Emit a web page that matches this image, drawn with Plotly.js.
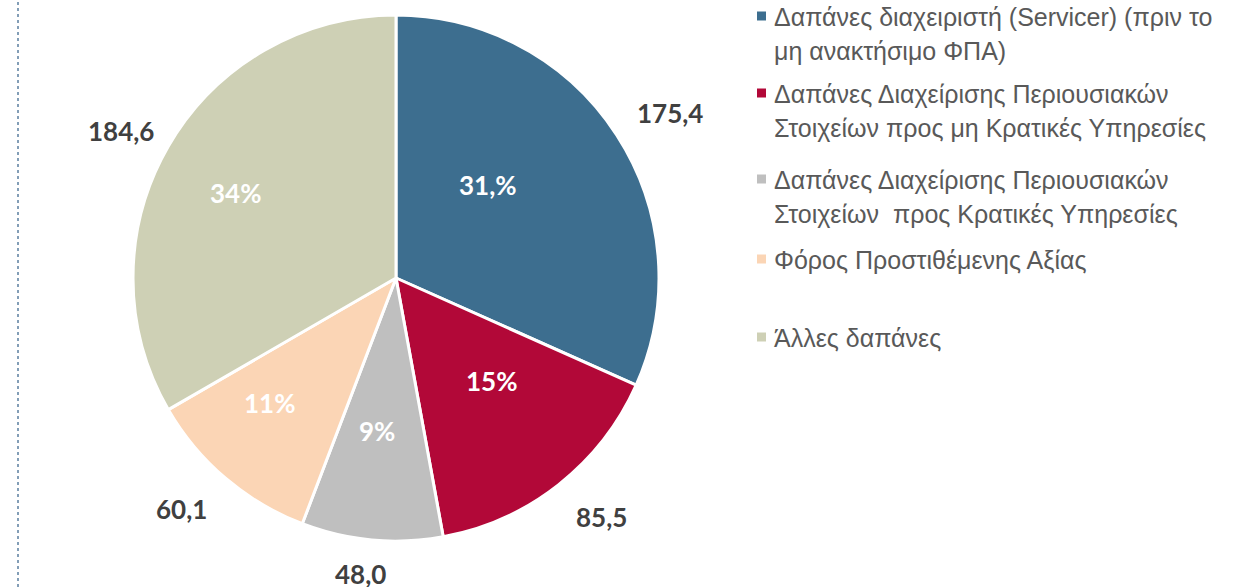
<!DOCTYPE html>
<html>
<head>
<meta charset="utf-8">
<script src="https://cdn.plot.ly/plotly-3.0.1.min.js"></script>
<style>
  html, body { margin: 0; padding: 0; background: #ffffff; }
  #chart { width: 1255px; height: 587px; }
</style>
</head>
<body>
<div id="chart"></div>
<script>
// Cost categories (legend text, one entry per slice, lines split by \n)
const categories = [
  "Δαπάνες διαχειριστή (Servicer) (πριν το\nμη ανακτήσιμο ΦΠΑ)",
  "Δαπάνες Διαχείρισης Περιουσιακών\nΣτοιχείων προς μη Κρατικές Υπηρεσίες",
  "Δαπάνες Διαχείρισης Περιουσιακών\nΣτοιχείων  προς Κρατικές Υπηρεσίες",
  "Φόρος Προστιθέμενης Αξίας",
  "Άλλες δαπάνες"
];
// Amounts per category
const values = [175.4, 85.5, 48.0, 60.1, 184.6];
// Share labels printed inside the slices
const shareLabels = ["31,%", "15%", "9%", "11%", "34%"];
const colors = ["#3d6e8f", "#b20838", "#bfbfbf", "#fbd5b5", "#ced0b5"];

const W = 1255, H = 587;
const cx = 396, cy = 278, R = 263;

// Greek-style number format: comma as decimal separator
const fmt = v => v.toFixed(1).replace(".", ",");
const px = x => x / W;
const py = y => 1 - y / H;

const trace = {
  type: "pie",
  labels: categories.map(c => c.replace("\n", " ")),
  values: values,
  sort: false,
  direction: "clockwise",
  rotation: 0,
  textinfo: "none",
  hoverinfo: "label+value",
  showlegend: false,
  marker: { colors: colors, line: { color: "#ffffff", width: 3 } },
  domain: {
    x: [px(cx - R), px(cx + R)],
    y: [py(cy + R), py(cy - R)]
  }
};

// Label placement (pixel centres) for value and share labels
const valuePos = [[670, 113], [601, 517], [360, 574], [181, 509], [121, 131]];
const sharePos = [[488, 185], [492, 381], [377, 431], [269, 403], [235, 193]];

const labelFont = "Lato, 'Open Sans', sans-serif";
const annotations = [];
values.forEach((v, i) => {
  annotations.push({
    xref: "paper", yref: "paper",
    x: px(valuePos[i][0]), y: py(valuePos[i][1]),
    xanchor: "center", yanchor: "middle",
    text: "<b>" + fmt(v) + "</b>",
    showarrow: false,
    font: { family: labelFont, size: 26, color: "#404040" }
  });
  annotations.push({
    xref: "paper", yref: "paper",
    x: px(sharePos[i][0]), y: py(sharePos[i][1]),
    xanchor: "center", yanchor: "middle",
    text: "<b>" + shareLabels[i] + "</b>",
    showarrow: false,
    font: { family: labelFont, size: 26, color: "#ffffff" }
  });
});

// Legend: colour key squares and wrapped category text
const legendX = 757, keySize = 9, textX = 772, linePitch = 34;
const legendRows = [16, 93, 179, 259, 337];
const shapes = [{
  type: "line", xref: "paper", yref: "paper",
  x0: px(18), x1: px(18), y0: 0, y1: 1,
  line: { color: "#5b7fa0", width: 1.5, dash: "dot" }
}];
categories.forEach((c, i) => {
  const y0 = legendRows[i];
  shapes.push({
    type: "rect", xref: "paper", yref: "paper",
    x0: px(legendX), x1: px(legendX + keySize),
    y0: py(y0 + keySize / 2), y1: py(y0 - keySize / 2),
    fillcolor: colors[i], line: { width: 0 }
  });
  c.split("\n").forEach((line, k) => {
    annotations.push({
      xref: "paper", yref: "paper",
      x: px(textX), y: py(y0 + k * linePitch + 1),
      xanchor: "left", yanchor: "middle",
      text: line,
      showarrow: false,
      font: { family: "'Liberation Sans', Arial, sans-serif", size: 25, color: "#595959" }
    });
  });
});

const layout = {
  width: W, height: H,
  margin: { l: 0, r: 0, t: 0, b: 0 },
  paper_bgcolor: "#ffffff",
  showlegend: false,
  shapes: shapes,
  annotations: annotations
};

Plotly.newPlot("chart", [trace], layout, { displayModeBar: false, staticPlot: true });
</script>
</body>
</html>
